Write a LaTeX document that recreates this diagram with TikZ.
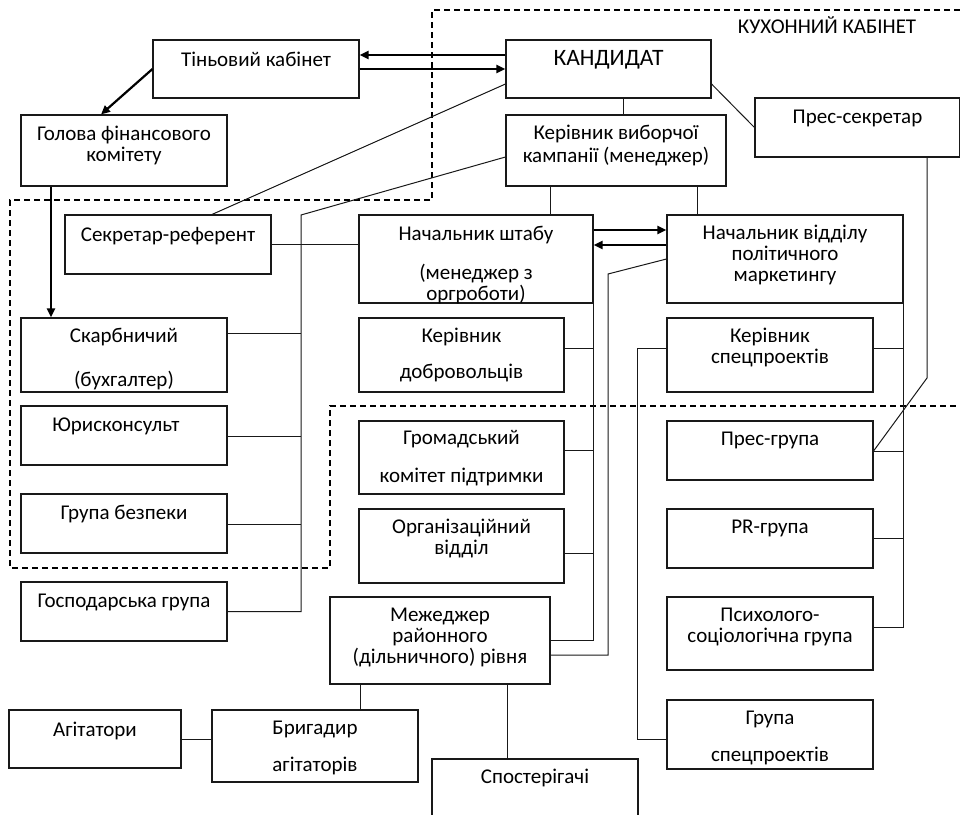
\documentclass[tikz,border=0pt]{standalone}
\usepackage{fontspec}
\setmainfont{Carlito}
\usetikzlibrary{arrows.meta}
\begin{document}
\begin{tikzpicture}[x=1pt, y=-1pt,
	unit/.style={draw=black!90, line width=1.1pt, inner sep=0pt, minimum width=206pt},
	txt/.style={anchor=north, inner sep=0pt, align=center, font=\fontsize{21}{21}\selectfont},
	link/.style={draw=black!90, line width=1pt},
	strong/.style={line width=2.2pt, -{Triangle[length=9pt,width=8pt]}},
	cabinet/.style={line width=1.9pt, dash pattern=on 6pt off 4pt}]
	\useasboundingbox (0,0) rectangle (960,814);
	\clip (0,0) rectangle (960,814);
	
	% Draw the kitchen cabinet border
	\draw[cabinet] (960,10) -- (432,10) -- (432,200) -- (10,200) -- (10,568) -- (330,568) -- (330,406) -- (960,406);
	\node[anchor=base, inner sep=0pt, font=\fontsize{21}{21}\selectfont] (kitchen) at (827,33) {КУХОННИЙ КАБІНЕТ};
	
	% Draw the boxes
	\node[unit, minimum height=58pt] (shadow) at (256,69) {};
	\node[unit, minimum height=71pt] (finhead) at (124,150.5) {};
	\node[unit, minimum width=205pt, minimum height=58pt] (cand) at (608.5,69) {};
	\node[unit, minimum width=220pt, minimum height=71pt] (campaign) at (616,150.5) {};
	\node[unit, minimum width=205pt, minimum height=59pt] (press) at (857.5,127.5) {};
	\node[unit, minimum height=59pt] (secref) at (168,244.5) {};
	\node[unit, minimum width=234pt, minimum height=88pt] (staff) at (476,259) {};
	\node[unit, minimum width=236pt, minimum height=88pt] (market) at (785,259) {};
	\node[unit, minimum height=74pt] (treasurer) at (124,355) {};
	\node[unit, minimum width=205pt, minimum height=74pt] (volunteers) at (461.5,355) {};
	\node[unit, minimum height=74pt] (special) at (770,355) {};
	\node[unit, minimum height=59pt] (lawyer) at (124,435.5) {};
	\node[unit, minimum width=205pt, minimum height=73pt] (civic) at (461.5,457.5) {};
	\node[unit, minimum height=59pt] (pressgrp) at (770,450.5) {};
	\node[unit, minimum height=59pt] (security) at (124,523.5) {};
	\node[unit, minimum width=205pt, minimum height=74pt] (orgdept) at (461.5,546) {};
	\node[unit, minimum height=59pt] (prgrp) at (770,538.5) {};
	\node[unit, minimum height=59pt] (household) at (124,611.5) {};
	\node[unit, minimum width=220pt, minimum height=87pt] (district) at (440,640.5) {};
	\node[unit, minimum height=73pt] (psych) at (770,633.5) {};
	\node[unit, minimum width=172pt, minimum height=58pt] (agitators) at (95,739) {};
	\node[unit, minimum height=72pt] (brigadier) at (315,746) {};
	\node[unit, minimum height=69pt] (specgrp) at (770,734.5) {};
	\node[unit, minimum height=81pt] (observers) at (535,799.5) {};
	
	% Draw the box texts
	\node[txt] (shadow-t) at ([yshift=-12pt]shadow.north) {\strut Тіньовий кабінет};
	\node[txt] (finhead-t) at ([yshift=-11.5pt]finhead.north) {\strut Голова фінансового\\комітету};
	\node[txt, font=\fontsize{23.5}{25}\selectfont] (cand-t) at ([yshift=-8.5pt]cand.north) {\strut КАНДИДАТ};
	\node[txt] (campaign-t) at ([yshift=-10.5pt]campaign.north) {\strut Керівник виборчої\\кампанії (менеджер)};
	\node[txt] (press-t) at ([yshift=-11.3pt]press.north) {\strut Прес-секретар};
	\node[txt] (secref-t) at ([yshift=-12pt]secref.north) {\strut Секретар-референт};
	\node[txt] (staff-t) at ([yshift=-11.3pt]staff.north) {\strut Начальник штабу\\[16pt](менеджер з\\оргроботи)};
	\node[txt] (market-t) at ([yshift=-10.3pt]market.north) {\strut Начальник відділу\\політичного\\маркетингу};
	\node[txt] (treasurer-t) at ([yshift=-10.3pt]treasurer.north) {\strut Скарбничий\\[21pt](бухгалтер)};
	\node[txt] (volunteers-t) at ([yshift=-10.3pt]volunteers.north) {\strut Керівник\\[15pt]добровольців};
	\node[txt] (special-t) at ([yshift=-10.3pt]special.north) {\strut Керівник\\спецпроектів};
	\node[txt, xshift=-8pt] (lawyer-t) at ([yshift=-11.3pt]lawyer.north) {\strut Юрисконсульт};
	\node[txt] (civic-t) at ([yshift=-9.3pt]civic.north) {\strut Громадський\\[17pt]комітет підтримки};
	\node[txt] (pressgrp-t) at ([yshift=-10.3pt]pressgrp.north) {\strut Прес-група};
	\node[txt] (security-t) at ([yshift=-11.3pt]security.north) {\strut Група безпеки};
	\node[txt] (orgdept-t) at ([yshift=-10.3pt]orgdept.north) {\strut Організаційний\\відділ};
	\node[txt] (prgrp-t) at ([yshift=-10.3pt]prgrp.north) {\strut PR-група};
	\node[txt] (household-t) at ([yshift=-11.3pt]household.north) {\strut Господарська група};
	\node[txt] (district-t) at ([yshift=-10.3pt]district.north) {\strut Межеджер\\районного\\(дільничного) рівня};
	\node[txt] (psych-t) at ([yshift=-10.3pt]psych.north) {\strut Психолого-\\соціологічна група};
	\node[txt] (agitators-t) at ([yshift=-12pt]agitators.north) {\strut Агітатори};
	\node[txt] (brigadier-t) at ([yshift=-10.3pt]brigadier.north) {\strut Бригадир\\[16pt]агітаторів};
	\node[txt] (specgrp-t) at ([yshift=-10.3pt]specgrp.north) {\strut Група\\[16pt]спецпроектів};
	\node[txt] (observers-t) at ([yshift=-10.3pt]observers.north) {\strut Спостерігачі};
	
	% Bend points
	\coordinate (lspine) at (301,215);
	\coordinate (mbend) at (608,274);
	\coordinate (sbend) at (637,348);
	\coordinate (pbend) at (927,378);
	
	% Draw the bold arrows
	\draw[strong] (cand.west |- 0,55) -- (shadow.east |- 0,55);
	\draw[strong] (shadow.east) -- (cand.west);
	\draw[strong] (shadow.west) -- (finhead.north -| 101,0);
	\draw[strong] (finhead.south -| 51,0) -- (treasurer.north -| 51,0);
	\draw[strong] (staff.east |- 0,230) -- (market.west |- 0,230);
	\draw[strong] (market.west |- 0,245) -- (staff.east |- 0,245);
	
	% Links from the candidate
	\draw[link] (cand.west |- 0,84) -- (secref.north -| 212,0);
	\draw[link] (cand.south -| 623,0) -- (campaign.north -| 623,0);
	\draw[link] (cand.east |- 0,84) -- (press.west);
	
	% Links from the campaign manager
	\draw[link] (campaign.west |- 0,157) -- (lspine) |- (household.east);
	\foreach \n/\y in {treasurer/333, lawyer/436, security/524}
		\draw[link] (\n.east |- 0,\y) -- (lspine |- 0,\y);
	\draw[link] (secref.east) -- (secref.east -| staff.west);
	\draw[link] (campaign.south -| 550,0) -- (staff.north -| 550,0);
	\draw[link] (campaign.south -| 697,0) -- (market.north -| 697,0);
	
	% Links from the staff head
	\draw[link] (staff.east |- 0,275) |- (district.east |- 0,640);
	\foreach \n/\y in {volunteers/348, civic/450, orgdept/553}
		\draw[link] (\n.east |- 0,\y) -- (staff.east |- 0,\y);
	
	% Links from the marketing head
	\draw[link] (market.west) -- (mbend) |- (district.east |- 0,655);
	\draw[link] (market.east |- 0,275) |- (psych.east |- 0,627);
	\foreach \n/\y in {special/348, pressgrp/451, prgrp/538}
		\draw[link] (\n.east |- 0,\y) -- (market.east |- 0,\y);
	\draw[link] (special.west |- 0,348) -- (sbend) |- (specgrp.west |- 0,739);
	\draw[link] (press.south -| pbend) -- (pbend) -- (pressgrp.east |- 0,451);
	
	% Links of the district level
	\draw[link] (district.south -| 360,0) -- (brigadier.north -| 360,0);
	\draw[link] (district.south -| 507,0) -- (observers.north -| 507,0);
	\draw[link] (agitators.east) -- (brigadier.west |- agitators.east);
\end{tikzpicture}
\end{document}
